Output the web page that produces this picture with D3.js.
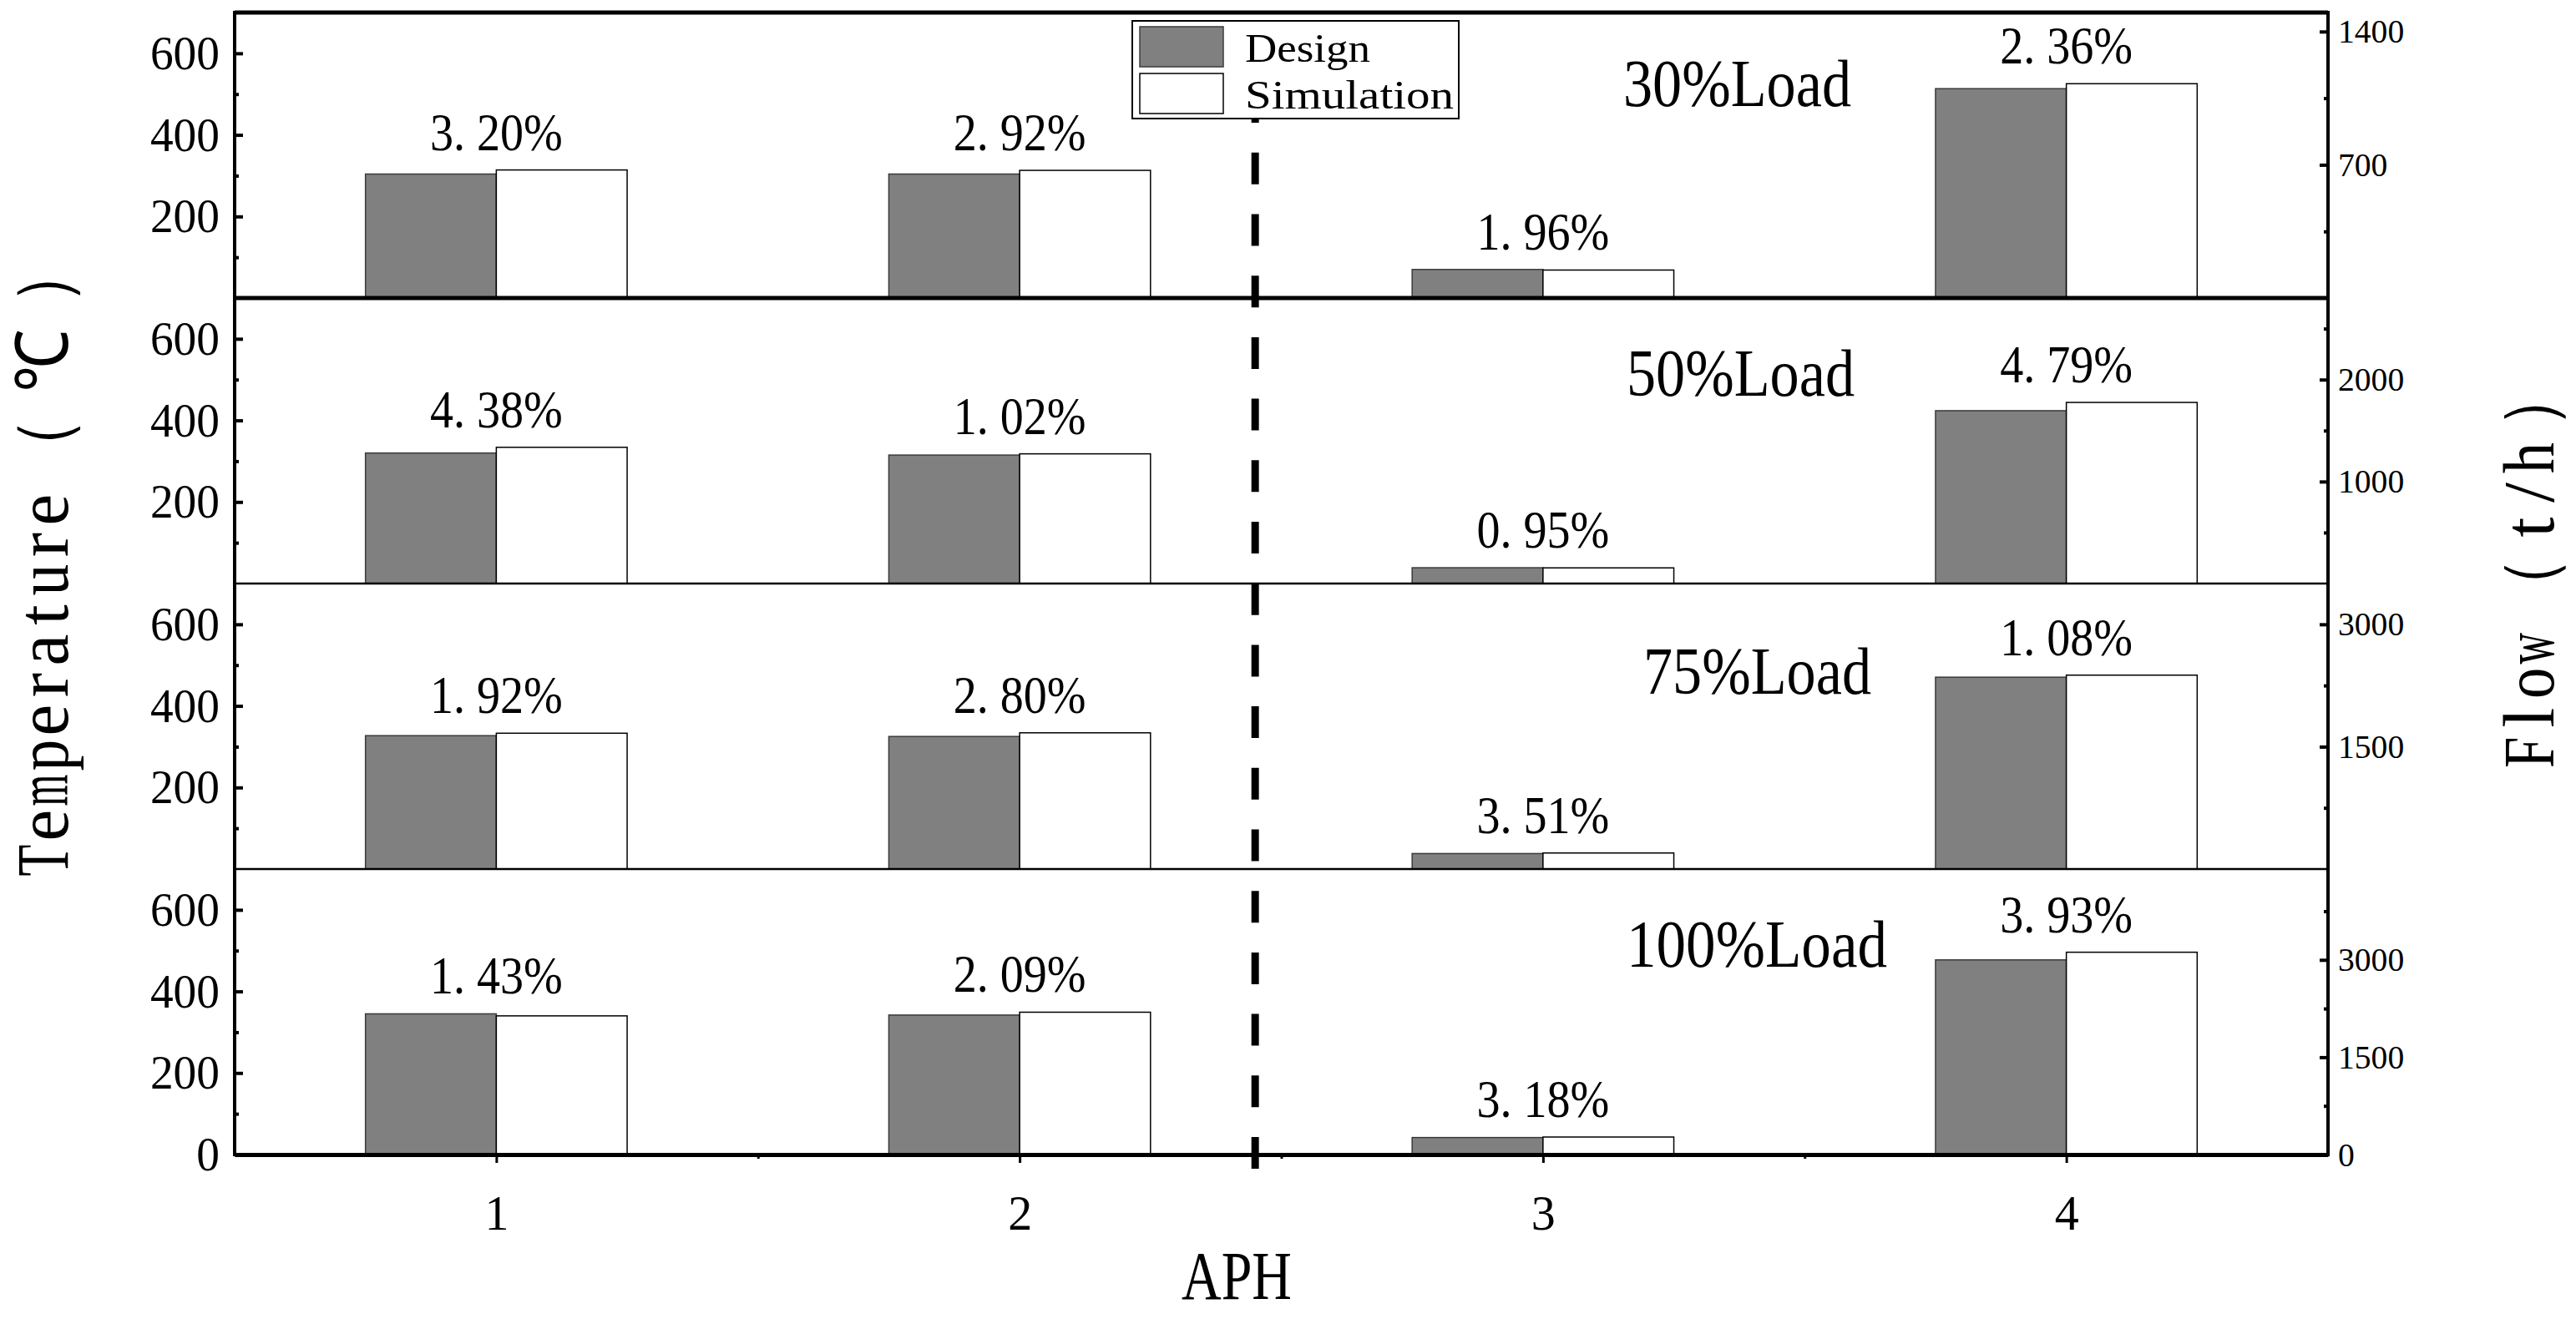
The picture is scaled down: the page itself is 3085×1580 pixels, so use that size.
<!DOCTYPE html>
<html>
<head>
<meta charset="utf-8">
<script src="https://cdn.jsdelivr.net/npm/d3@7"></script>
<style>
  body { margin: 0; background: #fff; }
  text { font-family: "Liberation Serif", "Times New Roman", serif; fill: #000; }
</style>
</head>
<body>
<div id="chart"></div>
<script>
// data
const categories = [1, 2, 3, 4];
const loadNames = ['30%Load', '50%Load', '75%Load', '100%Load'];
// temperature (deg C) for APH 1,2 and flow (t/h) for APH 3,4
const designValues = [
  [304, 304, 150, 1100],
  [320, 315, 155, 1695],
  [327, 325, 190, 2352],
  [345, 342, 262, 3000]
];
const simulationValues = [
  [314, 313, 147, 1126],
  [334, 318, 153.5, 1776],
  [333, 334, 196.7, 2377],
  [340, 349, 270, 3118]
];
const errorLabels = [
  ['3. 20%', '2. 92%', '1. 96%', '2. 36%'],
  ['4. 38%', '1. 02%', '0. 95%', '4. 79%'],
  ['1. 92%', '2. 80%', '3. 51%', '1. 08%'],
  ['1. 43%', '2. 09%', '3. 18%', '3. 93%']
];
const tempMax = 700;
const tempTicks = [[200, 400, 600], [200, 400, 600], [200, 400, 600], [0, 200, 400, 600]];
const tempMinor = [100, 300, 500];
const flowMax = [1500, 2800, 3500, 4400];
const flowTicks = [[700, 1400], [1000, 2000], [1500, 3000], [0, 1500, 3000]];
const flowMinor = [[350, 1050], [500, 1500, 2500], [750, 2250], [750, 2250, 3750]];
const flowCats = [3, 4];
const splitAt = 2.45;

const width = 3085, height = 1580;
const margin = { top: 15, right: 297, bottom: 197, left: 281 };
const panelH = (height - margin.top - margin.bottom) / 4;
const plotR = width - margin.right;
const plotB = height - margin.bottom;

// the original font is SimSun-like: latin chars half an em wide
function cellCount(s, fullW = 2) {
  let n = 0;
  for (const ch of s) n += ch.charCodeAt(0) >= 0x2000 ? fullW : 1;
  return n;
}
// whole string squeezed to its cell width
function fit(sel, fs, charW) {
  sel.attr('font-size', fs)
    .attr('lengthAdjust', 'spacingAndGlyphs')
    .attr('textLength', function () { return cellCount(this.textContent) * charW; });
}
// one char per cell, for the spaced-out axis titles
function mono(sel, fs, charW, fullW) {
  sel.each(function () {
    const t = d3.select(this);
    const chars = [...t.text()];
    const cells = chars.map(ch => cellCount(ch, fullW));
    const start = -d3.sum(cells) * charW / 2;
    t.text(null).attr('font-size', fs).attr('text-anchor', 'middle');
    let acc = 0;
    chars.forEach((ch, i) => {
      const ts = t.append('tspan')
        .attr('x', start + (acc + cells[i] / 2) * charW)
        .text(ch);
      const w = ts.node().getComputedTextLength();
      const maxW = Math.min(cells[i], 2) * charW * 0.9;
      if (w > maxW) ts.attr('textLength', maxW).attr('lengthAdjust', 'spacingAndGlyphs');
      acc += cells[i];
    });
  });
}

const svg = d3.select('#chart').append('svg')
  .attr('width', width).attr('height', height)
  .attr('viewBox', [0, 0, width, height]);
svg.append('rect').attr('width', width).attr('height', height).attr('fill', '#fff');

const x = d3.scaleLinear().domain([0.5, 4.5]).range([margin.left, plotR]);
const barW = x(1.25) - x(1);

loadNames.forEach((name, p) => {
  const top = margin.top + p * panelH;
  const bottom = top + panelH;
  const yT = d3.scaleLinear().domain([0, tempMax]).range([bottom, top]);
  const yF = d3.scaleLinear().domain([0, flowMax[p]]).range([bottom, top]);
  const yOf = (c, v) => flowCats.includes(c) ? yF(v) : yT(v);

  const g = svg.append('g');

  const rows = categories.map((c, i) => ({
    c, d: designValues[p][i], s: simulationValues[p][i], label: errorLabels[p][i]
  }));

  // design bars
  g.selectAll('rect.design').data(rows).join('rect')
    .attr('class', 'design')
    .attr('x', d => x(d.c) - barW)
    .attr('y', d => yOf(d.c, d.d))
    .attr('width', barW)
    .attr('height', d => bottom - yOf(d.c, d.d))
    .attr('fill', '#808080').attr('stroke', '#3a3a3a').attr('stroke-width', 1.5);

  // simulation bars
  g.selectAll('rect.sim').data(rows).join('rect')
    .attr('class', 'sim')
    .attr('x', d => x(d.c))
    .attr('y', d => yOf(d.c, d.s))
    .attr('width', barW)
    .attr('height', d => bottom - yOf(d.c, d.s))
    .attr('fill', '#fff').attr('stroke', '#000').attr('stroke-width', 1.5);

  // error labels
  g.selectAll('text.err').data(rows).join('text')
    .attr('class', 'err')
    .attr('x', d => x(d.c))
    .attr('y', d => Math.min(yOf(d.c, d.d), yOf(d.c, d.s)) - 24)
    .attr('text-anchor', 'middle')
    .text(d => d.label)
    .call(fit, 63, 26.5);

  // left axis (temperature)
  const la = svg.append('g').attr('transform', `translate(${margin.left},0)`)
    .call(d3.axisLeft(yT).tickValues(tempTicks[p]).tickSize(-10).tickSizeOuter(0).tickPadding(18).tickFormat(d3.format('d')));
  la.select('.domain').remove();
  la.selectAll('line').attr('stroke-width', 4);
  la.selectAll('text').attr('font-family', null).call(fit, 58, 27.7);
  const lm = svg.append('g').attr('transform', `translate(${margin.left},0)`)
    .call(d3.axisLeft(yT).tickValues(tempMinor).tickSize(-5).tickFormat(''));
  lm.select('.domain').remove();
  lm.selectAll('line').attr('stroke-width', 4);

  // right axis (flow)
  const ra = svg.append('g').attr('transform', `translate(${plotR},0)`)
    .call(d3.axisRight(yF).tickValues(flowTicks[p]).tickSize(-10).tickSizeOuter(0).tickPadding(12).tickFormat(d3.format('d')));
  ra.select('.domain').remove();
  ra.selectAll('line').attr('stroke-width', 4);
  ra.selectAll('text').attr('font-family', null).call(fit, 41, 19.8);
  const rm = svg.append('g').attr('transform', `translate(${plotR},0)`)
    .call(d3.axisRight(yF).tickValues(flowMinor[p]).tickSize(-5).tickFormat(''));
  rm.select('.domain').remove();
  rm.selectAll('line').attr('stroke-width', 4);
});

// load labels
const loadX = [1944, 1948, 1968, 1948];
const loadDy = [112, 117, 132, 117];
svg.selectAll('text.load').data(loadNames).join('text')
  .attr('class', 'load')
  .attr('x', (d, i) => loadX[i])
  .attr('y', (d, i) => margin.top + i * panelH + loadDy[i])
  .text(d => d)
  .call(fit, 80, 39);

// panel separators
[2, 3].forEach(k => {
  svg.append('line')
    .attr('x1', margin.left).attr('x2', plotR)
    .attr('y1', margin.top + k * panelH).attr('y2', margin.top + k * panelH)
    .attr('stroke', '#000').attr('stroke-width', 2.5);
});
[0, 1].forEach(k => {
  svg.append('line')
    .attr('x1', margin.left).attr('x2', plotR)
    .attr('y1', margin.top + k * panelH).attr('y2', margin.top + k * panelH)
    .attr('stroke', '#000').attr('stroke-width', 5);
});

// dashed split line between temperature and flow
svg.append('line')
  .attr('x1', x(splitAt)).attr('x2', x(splitAt))
  .attr('y1', plotB + 17).attr('y2', margin.top)
  .attr('stroke', '#000').attr('stroke-width', 9)
  .attr('stroke-dasharray', '38,35.7');

// frame lines
svg.append('line').attr('x1', margin.left).attr('x2', margin.left)
  .attr('y1', margin.top - 2).attr('y2', plotB + 2).attr('stroke', '#000').attr('stroke-width', 4);
svg.append('line').attr('x1', plotR).attr('x2', plotR)
  .attr('y1', margin.top - 2).attr('y2', plotB + 2).attr('stroke', '#000').attr('stroke-width', 4);

// bottom axis
const xa = svg.append('g').attr('transform', `translate(0,${plotB})`)
  .call(d3.axisBottom(x).tickValues(categories).tickSize(10).tickSizeOuter(0).tickPadding(37).tickFormat(d3.format('d')));
xa.select('.domain').attr('stroke-width', 5);
xa.selectAll('line').attr('stroke-width', 3);
xa.selectAll('text').attr('font-family', null).call(fit, 60, 29);
const xm = svg.append('g').attr('transform', `translate(0,${plotB})`)
  .call(d3.axisBottom(x).tickValues([1.5, 2.5, 3.5]).tickSize(5).tickFormat(''));
xm.select('.domain').remove();
xm.selectAll('line').attr('stroke-width', 3);

// legend
const leg = svg.append('g');
leg.append('rect').attr('x', 1356).attr('y', 25).attr('width', 391).attr('height', 117)
  .attr('fill', '#fff').attr('stroke', '#000').attr('stroke-width', 2);
leg.append('rect').attr('x', 1365).attr('y', 32).attr('width', 100).attr('height', 48)
  .attr('fill', '#808080').attr('stroke', '#3a3a3a').attr('stroke-width', 1.5);
leg.append('rect').attr('x', 1365).attr('y', 88).attr('width', 100).attr('height', 48)
  .attr('fill', '#fff').attr('stroke', '#000').attr('stroke-width', 1.5);
leg.append('text').attr('x', 1491).attr('y', 74).text('Design').call(fit, 48, 25);
leg.append('text').attr('x', 1491).attr('y', 130).text('Simulation').call(fit, 48, 25);

// axis titles
svg.append('text')
  .attr('x', 1481).attr('y', 1556)
  .attr('text-anchor', 'middle')
  .text('APH').call(fit, 82, 44);
svg.append('text')
  .attr('transform', `translate(81,${margin.top + 2 * panelH - 36}) rotate(-90)`)
  .text('Temperature（℃）').call(mono, 88, 42, 2.5);
svg.append('text')
  .attr('transform', `translate(3058,${margin.top + 2 * panelH - 26}) rotate(-90)`)
  .text('Flow（t/h）').call(mono, 86, 41.5, 2.5);
</script>
</body>
</html>
